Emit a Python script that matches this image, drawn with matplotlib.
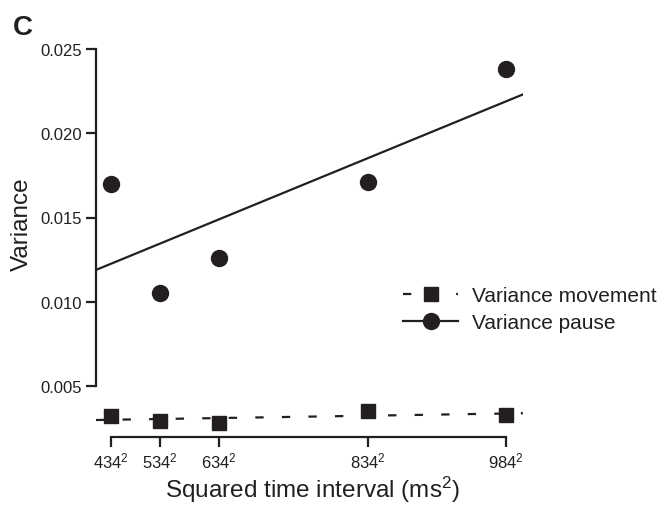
import numpy as np
import matplotlib
matplotlib.use("Agg")
import matplotlib.pyplot as plt

plt.rcParams["font.family"] = ["Liberation Sans", "DejaVu Sans"]
plt.rcParams["mathtext.fontset"] = "custom"
plt.rcParams["mathtext.rm"] = "Liberation Sans"

INK = "#231f20"

# --- data ---
intervals = [434, 534, 634, 834, 984]          # ms, plotted as squares
var_pause = [0.0170, 0.0105, 0.0126, 0.0171, 0.0238]
var_move = [0.00322, 0.00292, 0.00280, 0.00352, 0.00328]
yticks = [0.005, 0.010, 0.015, 0.020, 0.025]

x = np.array(intervals, dtype=float) ** 2

# linear fits drawn in the original (span the whole x range)
p_pause = np.polyfit(x, var_pause, 1)
p_move = np.polyfit(x, var_move, 1)

PX = 1976.0  # ms^2 per pixel
xlim = (x[0] - 15 * PX, x[0] + 412 * PX)
ylim = (0.025 - 388 / 16.85 * 0.001, 0.025 + 10 / 16.85 * 0.001)

fig = plt.figure(figsize=(6.66, 5.06), dpi=100)
ax = fig.add_axes([96 / 666, 1 - 438 / 506, 427 / 666, 398 / 506])

dash = (0, (3.75, 8.2))
xs = np.array(xlim)
ax.plot(xs, np.polyval(p_pause, xs), color=INK, lw=1.6)
ax.plot(xs, np.polyval(p_move, xs), color=INK, lw=1.6, ls=dash)

ax.plot(x, var_move, "s", color=INK, ms=9.5, mec=INK)
ax.plot(x, var_pause, "o", color=INK, ms=11.5, mec=INK)

ax.set_xlim(*xlim)
ax.set_ylim(*ylim)

for side in ["top", "right"]:
    ax.spines[side].set_visible(False)
for side in ["left", "bottom"]:
    ax.spines[side].set_linewidth(1.6)
    ax.spines[side].set_color(INK)
ax.spines["left"].set_bounds(0.005, 0.025)
ax.spines["bottom"].set_bounds(x[0], x[-1])

ax.set_yticks(yticks)
ax.set_yticklabels([f"{v:.3f}" for v in yticks])
ax.set_xticks(x)
ax.set_xticklabels([rf"$\mathregular{{{v}^{{2}}}}$" for v in intervals])
ax.tick_params(axis="both", direction="out", length=7, width=1.6,
               color=INK, labelcolor=INK, labelsize=12, pad=3)

ax.set_ylabel("Variance", fontsize=17.5, color=INK)
ax.set_xlabel(r"Squared time interval (ms$\mathregular{^2}$)", fontsize=17.5,
              color=INK)
ax.yaxis.set_label_coords(33 / 666, 1 - 224 / 506,
                          transform=fig.transFigure)
ax.xaxis.set_label_coords(313 / 666, 1 - 475 / 506,
                          transform=fig.transFigure)

# legend
h_move, = ax.plot([], [], color=INK, lw=1.6, ls=dash, marker="s", ms=9.5)
h_pause, = ax.plot([], [], color=INK, lw=1.6, marker="o", ms=11.5)
leg = ax.legend([h_move, h_pause], ["Variance movement", "Variance pause"],
                loc="upper left", bbox_to_anchor=(403 / 666, 1 - 287 / 506),
                bbox_transform=fig.transFigure, frameon=False, fontsize=15,
                handlelength=2.65, handletextpad=0.65, labelspacing=0.38,
                borderaxespad=0, borderpad=0)
for t in leg.get_texts():
    t.set_color(INK)

fig.text(13 / 666, 1 - 35 / 506, "C", fontsize=20, fontweight="bold",
         color=INK)

fig.savefig("out.png", dpi=100)
